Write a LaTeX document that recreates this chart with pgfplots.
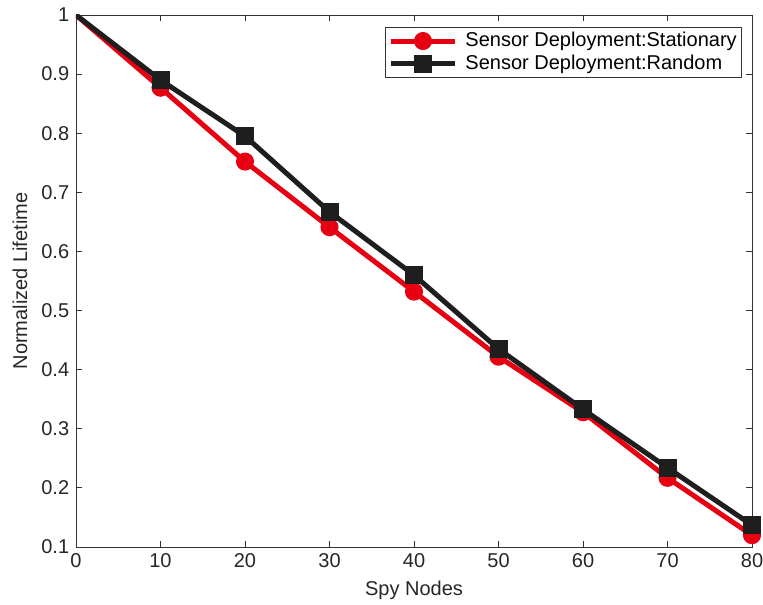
\documentclass[border=0pt]{standalone}
\usepackage{pgfplots}
\pgfplotsset{compat=1.18}
\usepackage{fontspec}
\setmainfont{Liberation Sans}
\begin{document}
\fontsize{20bp}{23bp}\selectfont
\begin{tikzpicture}
\begin{axis}[
  scale only axis,
  width=676bp, height=532bp,
  xmin=0, xmax=80, ymin=0.1, ymax=1,
  xtick={0,10,...,80},
  ytick={0.1,0.2,...,1.0},
  yticklabels={0.1,0.2,0.3,0.4,0.5,0.6,0.7,0.8,0.9,1},
  tick align=inside,
  major tick length=6bp,
  /pgf/number format/assume math mode=true,
  tick label style={font=\fontsize{20bp}{23bp}\selectfont, text=black!85},
  label style={font=\fontsize{20bp}{23bp}\selectfont, text=black!85},
  xlabel={Spy Nodes},
  ylabel={Normalized Lifetime},
  xlabel style={at={(axis description cs:0.5,0)}, anchor=center, yshift=-43bp},
  ylabel style={at={(axis description cs:0,0.5)}, anchor=center, xshift=0bp, yshift=56bp},
  axis line style={black!80, line width=0.8bp},
  every tick/.style={black!80, line width=0.8bp},
  legend style={at={([xshift=-10bp,yshift=-12bp]rel axis cs:1,1)}, anchor=north east, draw=black!80, line width=0.6bp,
    font=\fontsize{20bp}{23bp}\selectfont, inner sep=3bp, row sep=1bp},
  legend cell align=left,
  legend image code/.code={
    \draw[#1, line width=5bp] (0bp,0bp) -- (64bp,0bp);
    \draw[#1, mark indices={1}] plot coordinates {(32bp,0bp)};
    \path (70bp,0bp);
  },
]
\addplot[color={rgb,255:red,230;green,0;blue,18}, line width=5bp, mark=*, mark size=6.5bp, mark options={solid}, mark indices={2,...,9}]
coordinates {(0,1) (10,0.877) (20,0.752) (30,0.641) (40,0.532) (50,0.422) (60,0.328) (70,0.217) (80,0.120)};
\addlegendentry{Sensor Deployment:Stationary}
\addplot[color={rgb,255:red,30;green,30;blue,30}, line width=5bp, mark=square*, mark size=6.5bp, mark options={solid}, mark indices={2,...,9}]
coordinates {(0,1) (10,0.890) (20,0.795) (30,0.667) (40,0.560) (50,0.435) (60,0.333) (70,0.234) (80,0.137)};
\addlegendentry{Sensor Deployment:Random}
\end{axis}
\pgfresetboundingbox
\useasboundingbox ([xshift=-76bp,yshift=-57bp]current axis.south west) rectangle ([xshift=11bp,yshift=15bp]current axis.north east);
\end{tikzpicture}
\end{document}
